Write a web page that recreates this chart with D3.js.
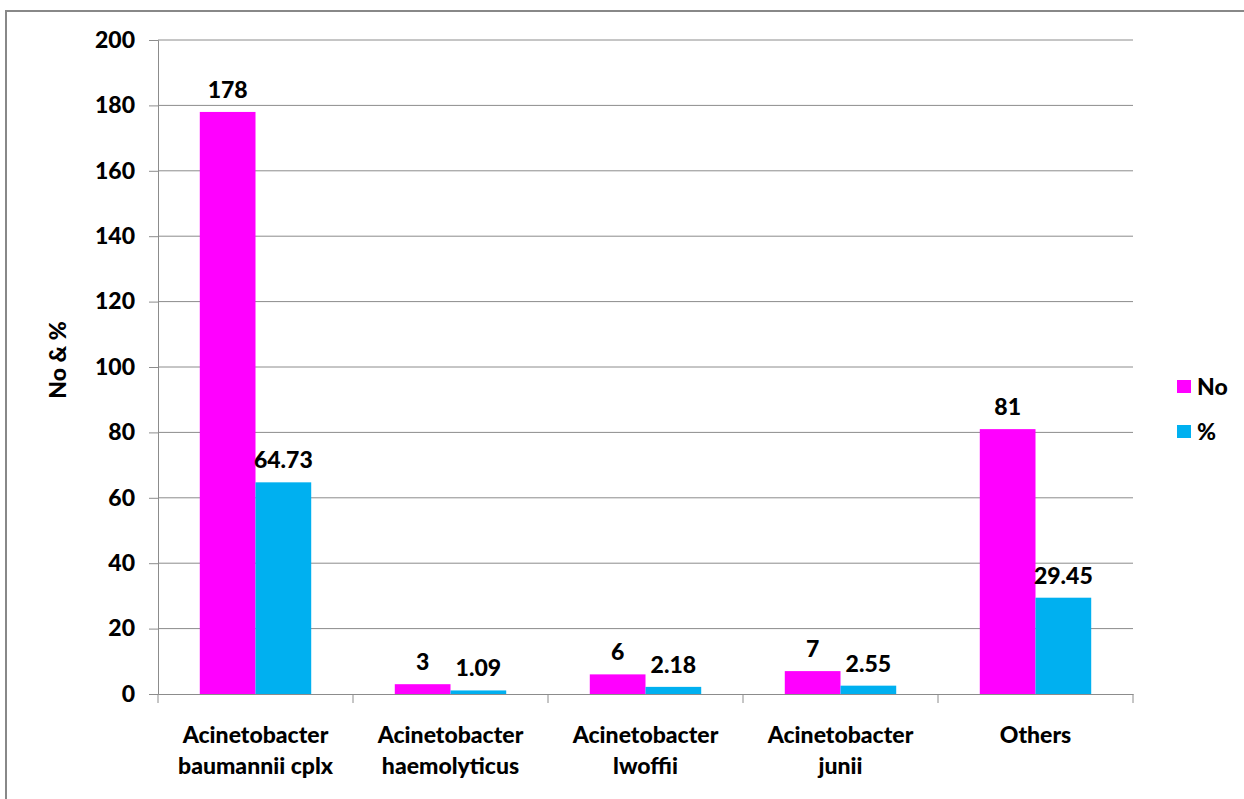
<!DOCTYPE html>
<html><head><meta charset="utf-8">
<script src="https://cdn.jsdelivr.net/npm/d3@7"></script>
<style>body{margin:0;background:#fff}svg{display:block}text{font-family:Lato,"Open Sans",sans-serif;font-weight:900;fill:#000}</style>
</head><body><svg id="c" width="1244" height="799"></svg>
<script>
const categories = [["Acinetobacter","baumannii cplx"],["Acinetobacter","haemolyticus"],["Acinetobacter","lwoffii"],["Acinetobacter","junii"],["Others"]];
const seriesNames = ["No","%"];
const noValues = [178,3,6,7,81];
const pctValues = [64.73,1.09,2.18,2.55,29.45];
const labelsNo = ["178","3","6","7","81"];
const labelsPct = ["64.73","1.09","2.18","2.55","29.45"];
const yTicks = [0,20,40,60,80,100,120,140,160,180,200];
const colors = ["#FF00FF","#00B0F0"];

const svg = d3.select("#c");
svg.append("rect").attr("x",6).attr("y",11).attr("width",1250).attr("height",800).attr("fill","none").attr("stroke","#888").attr("stroke-width",2);

const L=158,R=1133,T=40,B=694;
const x = d3.scaleBand().domain(d3.range(categories.length)).range([L,R]).paddingInner(0).paddingOuter(0);
const y = d3.scaleLinear().domain([0,200]).range([B,T]);
const bw = x.bandwidth()/3.5;

const g = svg.append("g");
g.selectAll("line.grid").data(yTicks.filter(d=>d>0)).join("line").attr("class","grid")
 .attr("x1",L).attr("x2",R).attr("y1",d=>y(d)).attr("y2",d=>y(d)).attr("stroke","#8c8c8c").attr("stroke-width",1);

const yAxis = svg.append("g").attr("transform",`translate(${L},0)`).call(d3.axisLeft(y).tickValues(yTicks).tickSize(9).tickPadding(14));
yAxis.select(".domain").attr("stroke","#8c8c8c");
yAxis.selectAll(".tick line").attr("stroke","#8c8c8c");
yAxis.selectAll("text").style("font-size","23px").style("font-family","Lato,sans-serif").style("font-weight","900").attr("fill","#000");

const series = [noValues,pctValues];
const labels = [labelsNo,labelsPct];
series.forEach((vals,si)=>{
  svg.append("g").selectAll("rect").data(vals).join("rect")
   .attr("x",(d,i)=>x(i)+0.75*bw+si*bw).attr("width",bw)
   .attr("y",d=>y(d)).attr("height",d=>B-y(d)).attr("fill",colors[si]);
  svg.append("g").selectAll("text").data(vals).join("text")
   .attr("x",(d,i)=>x(i)+0.75*bw+si*bw+bw/2).attr("y",d=>y(d)-14)
   .attr("text-anchor","middle").style("font-size","23px").text((d,i)=>labels[si][i]);
});

const xAxis = svg.append("g").attr("transform",`translate(0,${B})`).call(d3.axisBottom(x).tickSize(0).tickFormat(""));
xAxis.select(".domain").attr("stroke","#8c8c8c");
xAxis.selectAll(".tick").remove();
xAxis.selectAll("line.sep").data(d3.range(categories.length+1)).join("line").attr("class","sep")
 .attr("x1",i=>L+i*x.step()).attr("x2",i=>L+i*x.step()).attr("y1",0).attr("y2",9).attr("stroke","#8c8c8c");

categories.forEach((lines,i)=>{
  const t = svg.append("text").attr("x",x(i)+x.bandwidth()/2).attr("y",743).attr("text-anchor","middle").style("font-size","23px");
  lines.forEach((ln,k)=>t.append("tspan").attr("x",x(i)+x.bandwidth()/2).attr("dy",k?31:0).text(ln));
});

svg.append("text").attr("transform","translate(66,360) rotate(-90)").attr("text-anchor","middle").style("font-size","23px").text("No & %");

const leg = svg.append("g");
seriesNames.forEach((n,i)=>{
  leg.append("rect").attr("x",1177).attr("y",380+i*45).attr("width",14).attr("height",13).attr("fill",colors[i]);
  leg.append("text").attr("x",1197).attr("y",395+i*45).style("font-size","23px").text(n);
});
</script></body></html>
